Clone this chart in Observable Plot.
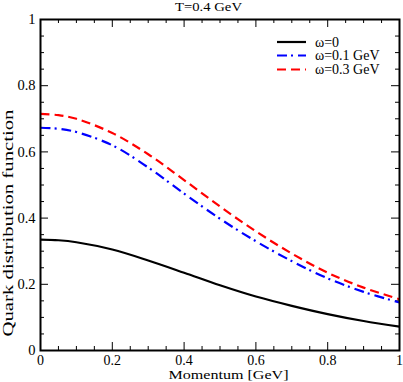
<!DOCTYPE html>
<html>
<head>
<meta charset="utf-8">
<script src="https://cdn.jsdelivr.net/npm/d3@7"></script>
<script src="https://cdn.jsdelivr.net/npm/@observablehq/plot@0.6"></script>
<style>
  html, body { margin: 0; padding: 0; background: #fff; }
  svg { display: block; }
</style>
</head>
<body>
<div id="chart"></div>
<script>
// ---- data ----
const momentum = [0, 0.05, 0.1, 0.2, 0.3, 0.4, 0.5, 0.6, 0.7, 0.8, 0.9, 1.0];
const omega0   = [0.335, 0.333, 0.327, 0.305, 0.272, 0.235, 0.197, 0.163, 0.135, 0.110, 0.089, 0.072];
const omega01  = [0.673, 0.670, 0.660, 0.620, 0.553, 0.474, 0.398, 0.330, 0.270, 0.218, 0.177, 0.145];
const omega03  = [0.715, 0.711, 0.700, 0.657, 0.593, 0.515, 0.435, 0.360, 0.293, 0.235, 0.190, 0.155];
const seriesNames = ["ω=0", "ω=0.1 GeV", "ω=0.3 GeV"];
const seriesColors = ["#000000", "#0000ff", "#ff0000"];
const seriesDash = [null, "10 4 2 5", "9 5"];
const xMajorTicks = [0, 0.2, 0.4, 0.6, 0.8, 1];
const xMinorTicks = [0.05, 0.1, 0.15, 0.25, 0.3, 0.35, 0.45, 0.5, 0.55, 0.65, 0.7, 0.75, 0.85, 0.9, 0.95];
const yMajorTicks = [0, 0.2, 0.4, 0.6, 0.8, 1];
const yMinorTicks = xMinorTicks;
const titleText = "T=0.4 GeV";
const xLabel = "Momentum [GeV]";
const yLabel = "Quark distribution function";

// ---- layout ----
const W = 403, H = 382;
const mL = 40, mR = 4, mT = 19, mB = 32;
const plotW = W - mL - mR, plotH = H - mT - mB;
const majorLen = 8, minorLen = 4;
const font = "'Liberation Serif', 'Times New Roman', serif";

const allSeries = [omega0, omega01, omega03];
const rows = allSeries.flatMap((vals, i) => momentum.map((m, j) => ({m, v: vals[j], s: i})));

const fmt = d => String(+d.toFixed(1));

const marks = [];
// ticks inward on all four sides
marks.push(Plot.tickX(xMajorTicks, {x: d => d, insetTop: plotH - majorLen, stroke: "black", strokeWidth: 1}));
marks.push(Plot.tickX(xMajorTicks, {x: d => d, insetBottom: plotH - majorLen, stroke: "black", strokeWidth: 1}));
marks.push(Plot.tickX(xMinorTicks, {x: d => d, insetTop: plotH - minorLen, stroke: "black", strokeWidth: 1}));
marks.push(Plot.tickX(xMinorTicks, {x: d => d, insetBottom: plotH - minorLen, stroke: "black", strokeWidth: 1}));
marks.push(Plot.tickY(yMajorTicks, {y: d => d, insetRight: plotW - majorLen, stroke: "black", strokeWidth: 1}));
marks.push(Plot.tickY(yMajorTicks, {y: d => d, insetLeft: plotW - majorLen, stroke: "black", strokeWidth: 1}));
marks.push(Plot.tickY(yMinorTicks, {y: d => d, insetRight: plotW - minorLen, stroke: "black", strokeWidth: 1}));
marks.push(Plot.tickY(yMinorTicks, {y: d => d, insetLeft: plotW - minorLen, stroke: "black", strokeWidth: 1}));

// lines
allSeries.forEach((vals, i) => {
  marks.push(Plot.line(rows.filter(r => r.s === i), {
    x: "m", y: "v", curve: "catmull-rom",
    stroke: seriesColors[i], strokeWidth: 2.2,
    strokeDasharray: seriesDash[i] || undefined,
    strokeLinecap: "butt"
  }));
});

marks.push(Plot.frame({stroke: "black", strokeWidth: 2}));

// axes (labels only)
marks.push(Plot.axisX({ticks: xMajorTicks, tickSize: 0, tickPadding: 4.5, tickFormat: fmt, fontSize: 14, label: null}));
marks.push(Plot.axisY({ticks: yMajorTicks, tickSize: 0, tickPadding: 5, tickFormat: fmt, fontSize: 14.5, label: null}));

const chart = Plot.plot({
  width: W, height: H,
  marginLeft: mL, marginRight: mR, marginTop: mT, marginBottom: mB,
  x: {domain: [0, 1], axis: null},
  y: {domain: [0, 1], axis: null},
  style: {fontFamily: font, fontSize: "14px", color: "black", background: "white"},
  marks
});

const svg = d3.select(chart);

// title
svg.append("text")
  .attr("x", 208.5).attr("y", 11)
  .attr("text-anchor", "middle")
  .attr("font-family", font).attr("font-size", 13)
  .attr("textLength", 67).attr("lengthAdjust", "spacingAndGlyphs")
  .attr("fill", "black")
  .text(titleText);

// x label
svg.append("text")
  .attr("x", 228.5).attr("y", 379)
  .attr("text-anchor", "middle")
  .attr("font-family", font).attr("font-size", 13.5)
  .attr("textLength", 120).attr("lengthAdjust", "spacingAndGlyphs")
  .attr("fill", "black")
  .text(xLabel);

// y label
svg.append("text")
  .attr("transform", "translate(13,223) rotate(-90)")
  .attr("text-anchor", "middle")
  .attr("font-family", font).attr("font-size", 15.5)
  .attr("textLength", 227).attr("lengthAdjust", "spacingAndGlyphs")
  .attr("fill", "black")
  .text(yLabel);

// legend
const legendY = [42, 55.5, 69.5];
const lg = svg.append("g");
seriesNames.forEach((name, i) => {
  lg.append("line")
    .attr("x1", 277).attr("x2", 306)
    .attr("y1", legendY[i]).attr("y2", legendY[i])
    .attr("stroke", seriesColors[i]).attr("stroke-width", 2.2)
    .attr("stroke-dasharray", seriesDash[i]);
  lg.append("text")
    .attr("x", 315).attr("y", legendY[i] + 4.5)
    .attr("text-anchor", "start")
    .attr("font-family", font).attr("font-size", 14)
    .attr("fill", "black")
    .text(name);
});

document.getElementById("chart").appendChild(chart);
</script>
</body>
</html>
